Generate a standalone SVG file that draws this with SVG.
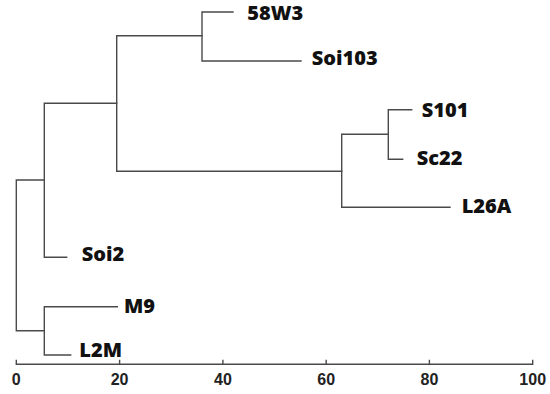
<svg xmlns="http://www.w3.org/2000/svg" width="550" height="394" viewBox="0 0 550 394">
<style>
.ln{fill:none;stroke:#4a4a4a;stroke-width:1.4;stroke-linecap:square}
.lbl{font-family:"Open Sans","Noto Sans",sans-serif;font-weight:800;font-size:20px;fill:#111}
.tk{font-family:"Liberation Sans",Arial,sans-serif;font-weight:bold;font-size:16px;fill:#222;text-anchor:middle}
</style>
<rect width="550" height="394" fill="#fff"/>
<g id="connectors" class="ln">
<path d="M16.3 180V330.7M16.3 180H44.3M16.3 330.7H44.3"/>
<path d="M44.3 103.3V257.3M44.3 103.3H116.7M44.3 257.3H66.7"/>
<path d="M116.7 35.7V171.3M116.7 35.7H202M116.7 171.3H341.7"/>
<path d="M202 12V61M202 12H233M202 61H301"/>
<path d="M341.7 134.3V207.3M341.7 134.3H388.3M341.7 207.3H450"/>
<path d="M388.3 109.7V159.3M388.3 109.7H411.7M388.3 159.3H402.7"/>
<path d="M44.3 306.7V355M44.3 306.7H117.3M44.3 355H70.7"/>
</g>
<g id="n-58W3"><text class="lbl" x="247.3" y="19.5">58W3</text></g>
<g id="n-Soi103"><text class="lbl" x="311.7" y="64.5">Soi103</text></g>
<g id="n-S101"><text class="lbl" x="421.7" y="116.6">S101</text></g>
<g id="n-Sc22"><text class="lbl" x="416.7" y="164.5">Sc22</text></g>
<g id="n-L26A"><text class="lbl" x="461.7" y="213.3">L26A</text></g>
<g id="n-Soi2"><text class="lbl" x="81.7" y="260.7">Soi2</text></g>
<g id="n-M9"><text class="lbl" x="124" y="312.7">M9</text></g>
<g id="n-L2M"><text class="lbl" x="79.3" y="357.3">L2M</text></g>
<g id="axis">
<path class="ln" d="M16.3 364.3H532.7M16.3 360.5V364.3M119.6 360.5V364.3M222.9 360.5V364.3M326.2 360.5V364.3M429.4 360.5V364.3M532.7 360.5V364.3"/>
<text class="tk" x="16.3" y="385">0</text>
<text class="tk" x="119.6" y="385">20</text>
<text class="tk" x="222.9" y="385">40</text>
<text class="tk" x="326.2" y="385">60</text>
<text class="tk" x="429.4" y="385">80</text>
<text class="tk" x="532.7" y="385">100</text>
</g>
</svg>
